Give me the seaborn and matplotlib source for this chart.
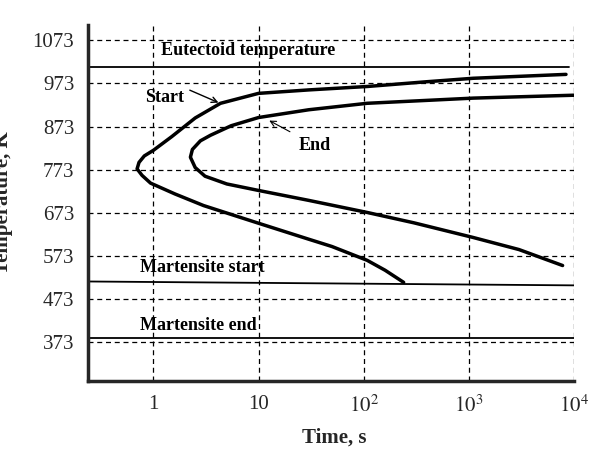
import numpy as np
import matplotlib
matplotlib.use("Agg")
import matplotlib.pyplot as plt
import seaborn as sns

# TTT diagram values
start_t = [240, 160, 108, 50, 30, 10, 3, 1.6, 0.94, 0.78, 0.70, 0.73, 0.82, 1.0, 1.5, 2.5, 4.35, 10, 30, 109, 400, 1100, 8400]
start_T = [512, 540, 563, 595, 612, 649, 690, 717, 742, 760, 775, 790, 805, 818, 850, 893, 927, 950, 958, 966, 977, 985, 994]
end_t = [7800, 3000, 1100, 300, 108, 30, 10, 5, 3.1, 2.5, 2.25, 2.35, 2.8, 3.5, 5.5, 10, 30, 108, 1100, 11000]
end_T = [551, 588, 616, 650, 674, 702, 725, 740, 758, 778, 802, 820, 840, 853, 875, 894, 912, 927, 939, 946]
yticks = [373, 473, 573, 673, 773, 873, 973, 1073]
xticks = [1, 10, 100, 1000, 10000]
xlabels = ["1", "10", "$10^2$", "$10^3$", "$10^4$"]

sns.set_style("white")
plt.rcParams['font.family'] = ['Liberation Serif', 'DejaVu Serif']
plt.rcParams['mathtext.fontset'] = 'stix'

fig = plt.figure(figsize=(5.96, 4.5), dpi=100)
ax = fig.add_axes([0.148, 0.153, 0.815, 0.791])
ax.set_xscale('log')
ax.set_xlim(0.24, 1e4)
ax.set_ylim(283, 1108)

sns.lineplot(x=start_t, y=start_T, sort=False, estimator=None, errorbar=None,
             color='black', lw=2.5, ax=ax)
sns.lineplot(x=end_t, y=end_T, sort=False, estimator=None, errorbar=None,
             color='black', lw=2.5, ax=ax)

ax.plot([0.24, 8900], [1010, 1010], color='black', lw=1.3)
ax.plot([0.24, 1e4], [514, 505], color='black', lw=1.3)
ax.plot([0.24, 1e4], [384, 384], color='black', lw=1.3)

ax.set_yticks(yticks)
ax.set_yticklabels([str(v) for v in yticks], fontsize=15)
ax.set_xticks(xticks)
ax.set_xticklabels(xlabels, fontsize=15)
ax.minorticks_off()
ax.tick_params(direction='inout', length=12, width=2.5, pad=4)
ax.grid(True, ls=(0, (4, 3)), color='black', lw=0.9)
for s in ['top', 'right']:
    ax.spines[s].set_visible(False)
for s in ['left', 'bottom']:
    ax.spines[s].set_linewidth(2.5)

bold = dict(fontsize=13, fontweight='bold', color='black')
ax.text(1.17, 1049, "Eutectoid temperature", va='center', **bold)
ax.text(0.84, 941, "Start", va='center', **bold)
ax.text(24, 830, "End", va='center', **bold)
ax.text(0.75, 547, "Martensite start", va='center', **bold)
ax.text(0.75, 412, "Martensite end", va='center', **bold)
ax.annotate("", xy=(4.4, 926), xytext=(2.1, 960),
            arrowprops=dict(arrowstyle='->', color='black', lw=1))
ax.annotate("", xy=(12, 890), xytext=(21, 858),
            arrowprops=dict(arrowstyle='->', color='black', lw=0.8))

fig.text(0.005, 0.55, "Temperature, K", rotation=90, ha='center', va='center',
         fontsize=15, fontweight='bold')
fig.text(0.56, 0.005, "Time, s", ha='center', va='bottom', fontsize=15, fontweight='bold')

fig.savefig("out.png", dpi=100)
